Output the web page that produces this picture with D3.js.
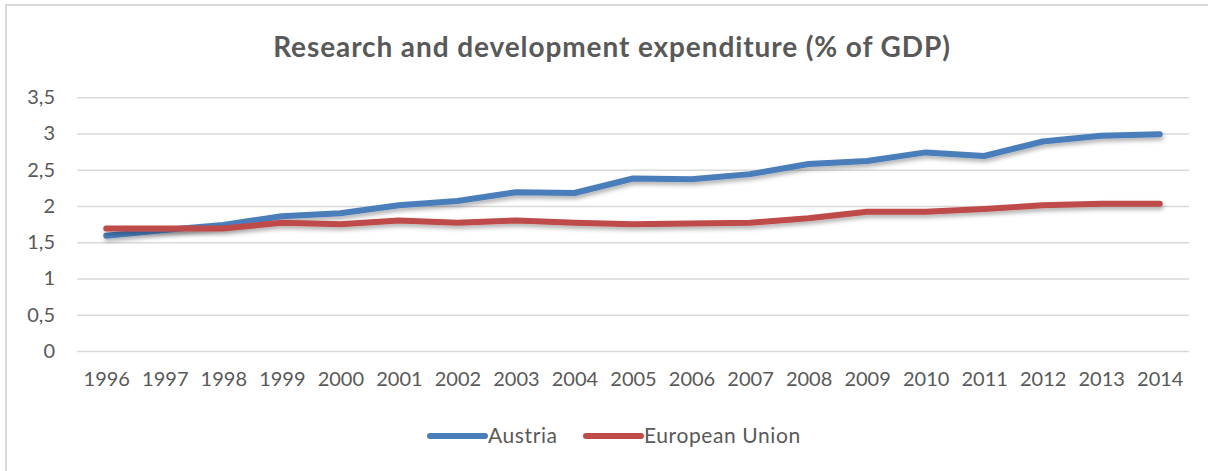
<!DOCTYPE html>
<html>
<head>
<meta charset="utf-8">
<script src="https://cdn.jsdelivr.net/npm/d3@7"></script>
<style>
  body { margin: 0; background: #fff; }
  svg { display: block; font-family: Lato, "Open Sans", sans-serif; }
</style>
</head>
<body>
<svg id="drawing_region"></svg>
<script>
const years = ['1996','1997','1998','1999','2000','2001','2002','2003','2004','2005','2006','2007','2008','2009','2010','2011','2012','2013','2014']
const austria = [1.59,1.67,1.74,1.86,1.90,2.01,2.07,2.19,2.18,2.38,2.37,2.44,2.58,2.62,2.74,2.69,2.89,2.97,2.99]
const eu = [1.69,1.69,1.69,1.77,1.75,1.80,1.77,1.80,1.77,1.75,1.76,1.77,1.83,1.92,1.92,1.96,2.01,2.03,2.03]
const yTicks = [0,0.5,1,1.5,2,2.5,3,3.5]
const seriesNames = ['Austria','European Union']
const seriesColors = ['#4a7ebb','#be4b48']

const W = 1208, H = 471
const svg = d3.select('#drawing_region').attr('width', W).attr('height', H)

// chart frame
svg.append('rect')
  .attr('x', 6).attr('y', 5).attr('width', W + 10).attr('height', H + 10)
  .attr('fill', 'none').attr('stroke', '#d9d9d9').attr('stroke-width', 2)

const defs = svg.append('defs')
defs.append('filter').attr('id', 'shadow')
  .attr('x', '-5%').attr('y', '-50%').attr('width', '110%').attr('height', '200%')
  .append('feDropShadow')
  .attr('dx', 1).attr('dy', 3).attr('stdDeviation', 2)
  .attr('flood-color', '#000').attr('flood-opacity', 0.3)

const plot = {left: 77, right: 1189, top: 97.3, bottom: 351}

const x = d3.scalePoint().domain(years).range([plot.left, plot.right]).padding(0.5)
const y = d3.scaleLinear().domain([0, 3.5]).range([plot.bottom, plot.top])

const fmt = d3.formatLocale({decimal: ',', thousands: '.', grouping: [3], currency: ['', '€']}).format('~g')

// title
svg.append('text')
  .attr('x', 612).attr('y', 57)
  .attr('text-anchor', 'middle')
  .attr('font-size', 28).attr('font-weight', 'bold')
  .attr('letter-spacing', 0.9)
  .attr('fill', '#595959')
  .text('Research and development expenditure (% of GDP)')

// gridlines
const yAxis = svg.append('g')
  .attr('transform', `translate(${plot.left},0)`)
  .call(d3.axisLeft(y).tickValues(yTicks).tickSize(-(plot.right - plot.left)).tickPadding(22).tickFormat(fmt))
yAxis.select('.domain').remove()
yAxis.selectAll('.tick line').attr('stroke', '#d9d9d9').attr('stroke-width', 1.5)
yAxis.selectAll('.tick text').attr('fill', '#595959').attr('font-size', 20).attr('font-family', 'Lato, sans-serif')

const xAxis = svg.append('g')
  .attr('transform', `translate(0,${plot.bottom})`)
  .call(d3.axisBottom(x).tickSize(0).tickPadding(21))
xAxis.select('.domain').remove()
xAxis.selectAll('.tick text').attr('fill', '#595959').attr('font-size', 20).attr('font-family', 'Lato, sans-serif')

const line = d3.line().x((d, i) => x(years[i])).y(d => y(d))

const series = [austria, eu]
svg.selectAll('path.series').data(series).enter()
  .append('path')
  .attr('class', 'series')
  .attr('d', d => line(d))
  .attr('fill', 'none')
  .attr('stroke', (d, i) => seriesColors[i])
  .attr('stroke-width', 6)
  .attr('stroke-linecap', 'round')
  .attr('stroke-linejoin', 'round')
  .attr('filter', 'url(#shadow)')

// legend
const legendX = [430, 586]
const legend = svg.selectAll('g.legend').data(seriesNames).enter()
  .append('g').attr('class', 'legend')
  .attr('transform', (d, i) => `translate(${legendX[i]},436)`)
legend.append('line')
  .attr('x1', 0).attr('x2', 55)
  .attr('stroke', (d, i) => seriesColors[i])
  .attr('stroke-width', 6).attr('stroke-linecap', 'round')
legend.append('text')
  .attr('x', 58).attr('dy', '0.35em')
  .attr('font-size', 21).attr('letter-spacing', 0.6).attr('fill', '#595959')
  .text(d => d)
</script>
</body>
</html>
